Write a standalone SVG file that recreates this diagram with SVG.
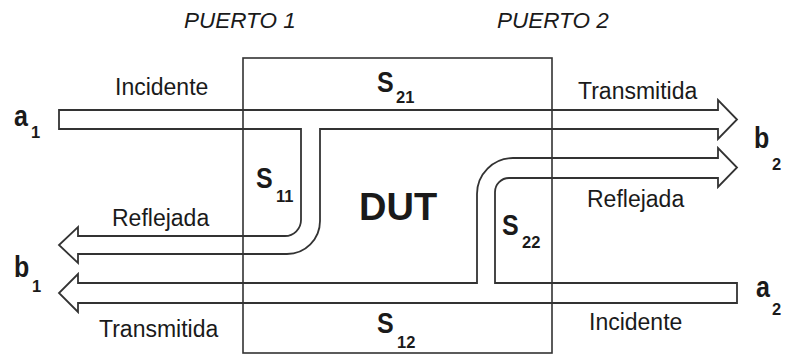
<svg xmlns="http://www.w3.org/2000/svg" width="786" height="356" viewBox="0 0 786 356">
<style>
text{font-family:"Liberation Sans",Arial,sans-serif;fill:#1a1a1a}
.lbl{font-size:23px}
.port{font-size:22.5px;font-style:italic}
.sym{font-size:25px;font-weight:bold}
.sub{font-size:16.5px;font-weight:bold}
.dut{font-size:38px;font-weight:bold}
.band{fill:none;stroke:#333;stroke-width:1.8;stroke-linejoin:miter}
.box{fill:none;stroke:#333;stroke-width:1.6}
</style>
<rect width="786" height="356" fill="#fff"/>
<g id="dut">
<rect class="box" x="243" y="58" width="309" height="295"/>
<text class="dut" x="359" y="220">DUT</text>
</g>
<g id="connectors">
<path id="band-top" class="band" d="M59,110 H718 V100 L737,119.5 L718,139 V129 H320 V221 A33,33 0 0 1 287,254 H78 V263 L59,245 L78,227 V236 H285 A16,16 0 0 0 301,220 V129 H59 Z"/>
<path id="band-bottom" class="band" d="M737,283 V303 H78 V312 L59,293 L78,274 V283 H477 V194 A36,36 0 0 1 513,158 H718 V148 L737,167.5 L718,187 V178 H509 A14,14 0 0 0 495,192 V283 Z"/>
</g>
<g id="port1">
<text class="port" x="184" y="28">PUERTO 1</text>
</g>
<g id="port2">
<text class="port" x="497" y="28">PUERTO 2</text>
</g>
<g id="a1">
<text class="sym" transform="translate(14,126) scale(1,1.2)">a</text>
<text class="sub" x="31" y="138">1</text>
<text class="lbl" x="115" y="95">Incidente</text>
</g>
<g id="b2">
<text class="sym" transform="translate(754,148) scale(1,1.2)">b</text>
<text class="sub" x="772" y="170">2</text>
<text class="lbl" x="578" y="99">Transmitida</text>
<text class="lbl" x="587" y="207">Reflejada</text>
</g>
<g id="b1">
<text class="sym" transform="translate(14,277) scale(1,1.2)">b</text>
<text class="sub" x="32" y="292">1</text>
<text class="lbl" x="112" y="226">Reflejada</text>
<text class="lbl" x="99" y="337">Transmitida</text>
</g>
<g id="a2">
<text class="sym" transform="translate(756,297) scale(1,1.2)">a</text>
<text class="sub" x="772" y="315">2</text>
<text class="lbl" x="589" y="330">Incidente</text>
</g>
<g id="s21">
<text class="sym" transform="translate(377,92) scale(1,1.2)">S</text>
<text class="sub" x="396" y="103">21</text>
</g>
<g id="s11">
<text class="sym" transform="translate(256,188) scale(1,1.2)">S</text>
<text class="sub" x="276" y="202">11</text>
</g>
<g id="s22">
<text class="sym" transform="translate(502,235) scale(1,1.2)">S</text>
<text class="sub" x="522" y="248">22</text>
</g>
<g id="s12">
<text class="sym" transform="translate(377,333) scale(1,1.2)">S</text>
<text class="sub" x="397" y="348">12</text>
</g>
</svg>
